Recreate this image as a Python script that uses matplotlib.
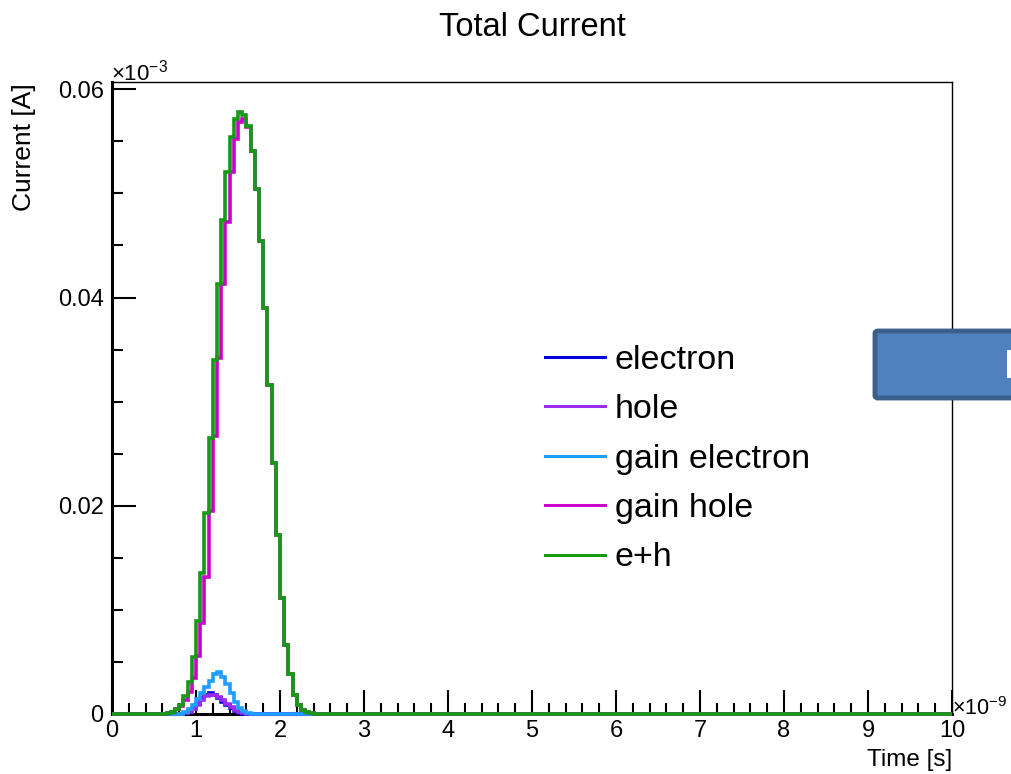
import numpy as np
import matplotlib.pyplot as plt
from matplotlib.patches import FancyBboxPatch, Rectangle
from matplotlib.lines import Line2D
from matplotlib.ticker import MultipleLocator, FuncFormatter

plt.rcParams['font.family'] = ['Liberation Sans', 'DejaVu Sans']
plt.rcParams['mathtext.fontset'] = 'custom'
plt.rcParams['mathtext.rm'] = 'Liberation Sans'
plt.rcParams['mathtext.it'] = 'Liberation Sans:italic'

# time axis in ns (x 1e-9 s), 200 bins of 0.05 ns; current in units of 1e-3 A
t_min, t_max, n_bins = 0.0, 10.0, 200
bin_width = (t_max - t_min) / n_bins

# each series: start of the first non-empty bin and the bin contents from there
electron_start = 0.85
electron = [0.0001, 0.0003, 0.0006, 0.0010, 0.0015, 0.0018, 0.0020, 0.0018,
            0.0015, 0.0012, 0.0009, 0.0006, 0.0003, 0.0001]

hole_start = 0.85
hole = [0.0001, 0.0002, 0.0005, 0.0009, 0.0013, 0.0017, 0.0018, 0.0018,
        0.0016, 0.0013, 0.0010, 0.0007, 0.0004, 0.0002, 0.0001]

gain_electron_start = 0.85
gain_electron = [0.0002, 0.0005, 0.0009, 0.0014, 0.0020, 0.0026, 0.0032, 0.0038,
                 0.0040, 0.0036, 0.0029, 0.0020, 0.0012, 0.0006, 0.0003, 0.0001]

gain_hole_start = 0.65
gain_hole = [0.0001, 0.0002, 0.0005, 0.0008, 0.0013, 0.0021, 0.0035, 0.0056,
             0.0087, 0.0132, 0.0195, 0.0267, 0.0342, 0.0413, 0.0473, 0.0521,
             0.0552, 0.0569, 0.0571, 0.0564, 0.0541, 0.0504, 0.0454, 0.0390,
             0.0316, 0.0241, 0.0172, 0.0111, 0.0066, 0.0038, 0.0018, 0.0009,
             0.0004, 0.0002, 0.0001]

eh_start = 0.65
eh = [0.0001, 0.0002, 0.0005, 0.0009, 0.0017, 0.0031, 0.0055, 0.0089,
      0.0135, 0.0193, 0.0265, 0.0340, 0.0413, 0.0474, 0.0521, 0.0554,
      0.0571, 0.0578, 0.0575, 0.0565, 0.0541, 0.0504, 0.0454, 0.0390,
      0.0316, 0.0241, 0.0172, 0.0111, 0.0066, 0.0038, 0.0018, 0.0009,
      0.0004, 0.0002, 0.0001]

labels = ['electron', 'hole', 'gain electron', 'gain hole', 'e+h']
colors = ['#0000e0', '#9a2cf0', '#1e9eff', '#cc00cc', '#149a14']


def full_hist(start, vals):
    h = np.zeros(n_bins)
    i = int(round((start - t_min) / bin_width))
    h[i:i + len(vals)] = vals
    return h


edges = np.linspace(t_min, t_max, n_bins + 1)
series = [(electron_start, electron), (hole_start, hole),
          (gain_electron_start, gain_electron), (gain_hole_start, gain_hole),
          (eh_start, eh)]

fig = plt.figure(figsize=(10.12, 7.74), dpi=100)
ax = fig.add_axes([112 / 1012, 60 / 774, 840 / 1012, 632 / 774])

for k, (start, vals) in enumerate(series):
    ax.stairs(full_hist(start, vals), edges, color=colors[k], lw=2.6,
              clip_on=False, zorder=3 + k)

ax.set_xlim(t_min, t_max)
ax.set_ylim(0, 0.0607)

ax.xaxis.set_major_locator(MultipleLocator(1))
ax.xaxis.set_minor_locator(MultipleLocator(0.2))
ax.yaxis.set_major_locator(MultipleLocator(0.02))
ax.yaxis.set_minor_locator(MultipleLocator(0.005))
ax.xaxis.set_major_formatter(FuncFormatter(lambda v, p: '%d' % round(v)))
ax.yaxis.set_major_formatter(FuncFormatter(lambda v, p: '0' if abs(v) < 1e-9 else '%.2f' % v))

ax.tick_params(which='both', direction='in', top=False, right=False, width=1.5, labelsize=17)
ax.tick_params(which='major', length=17)
ax.tick_params(which='minor', length=8)
ax.tick_params(axis='x', pad=4)
ax.tick_params(axis='y', pad=6)

for side in ['left', 'bottom']:
    ax.spines[side].set_linewidth(2.2)
for side in ['top', 'right']:
    ax.spines[side].set_linewidth(1.0)

handles = [Line2D([], [], color=c, lw=2.2) for c in colors]
ax.legend(handles, labels, loc='upper left', bbox_to_anchor=(0.5155, 0.584),
          frameon=False, fontsize=24.5, handlelength=1.75, handletextpad=0.3,
          labelspacing=0.54, borderpad=0, borderaxespad=0)

fig.text(532 / 1012, 1 - 27 / 774, 'Total Current', ha='center', va='center', fontsize=23.5)
fig.text(24 / 1012, 1 - 83 / 774, 'Current [A]', rotation=90, ha='center', va='top', fontsize=19)
fig.text(952 / 1012, 1 - 760 / 774, 'Time [s]', ha='right', va='center', fontsize=17.5)
fig.text(111 / 1012, 1 - 80 / 774, '×10$^{-3}$', ha='left', va='baseline', fontsize=16)
fig.text(952 / 1012, 1 - 715 / 774, '×10$^{-9}$', ha='left', va='baseline', fontsize=15.5)

# blue box pasted over the right edge
box = FancyBboxPatch((875 / 1012, 1 - 398 / 774), 160 / 1012, 67 / 774,
                     boxstyle='round,pad=0,rounding_size=0.003',
                     transform=fig.transFigure, fc='#4f81bd', ec='#3a5f8b',
                     lw=3.5, clip_on=False, zorder=10)
fig.add_artist(box)
fig.add_artist(Rectangle((1007 / 1012, 1 - 378 / 774), 6 / 1012, 28 / 774,
                         transform=fig.transFigure, fc='white', ec='none', zorder=11))

fig.savefig('out.png', dpi=100)
